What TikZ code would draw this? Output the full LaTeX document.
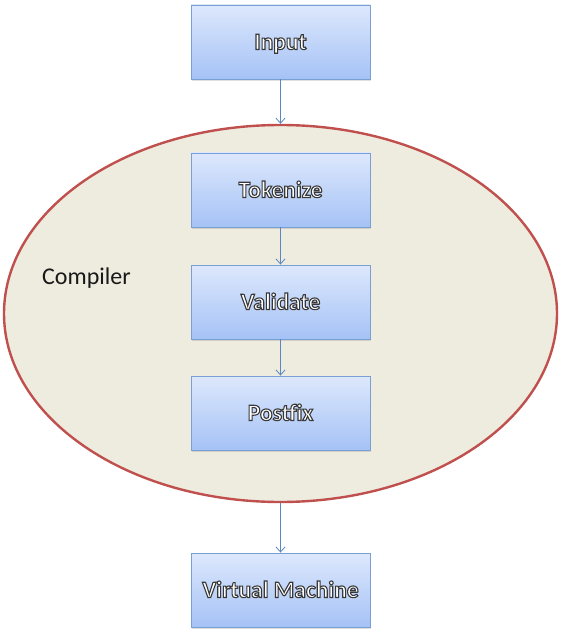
\documentclass[tikz,border=0pt]{standalone}
\usepackage{fontspec}
\setmainfont{Carlito}
\usetikzlibrary{shapes.geometric, shadows, arrows.meta}

\definecolor{boxtop}{HTML}{DDE8FC}
\definecolor{boxbottom}{HTML}{A5C2F6}
\definecolor{boxline}{HTML}{7A9FD5}
\definecolor{flowline}{HTML}{5A86C2}
\definecolor{compfill}{HTML}{EEEBDF}
\definecolor{compline}{HTML}{C0504D}

\tikzset{
	stagebox/.style={rectangle, draw=boxline, line width=0.9pt,
		top color=boxtop, bottom color=boxbottom,
		minimum width=179pt, minimum height=74pt, inner sep=0pt,
		text height=20pt, text depth=5pt,
		drop shadow={opacity=0.25, shadow xshift=1pt, shadow yshift=-2pt},
		text=white, font=\fontsize{23.5}{26}\selectfont\bfseries},
	flow/.style={draw=flowline, line width=0.8pt, -{Straight Barb[length=5pt, width=9pt]}}
}

% white letters with a dark rim
\newcommand{\outlined}[1]{\special{pdf:code q 2 Tr 1.1 w 0.22 0.22 0.22 RG}#1\special{pdf:code Q}}

\begin{document}
\begin{tikzpicture}[x=1pt, y=-1pt]
\useasboundingbox (0, 0) rectangle (562, 636);

%compiler region
\node[ellipse, draw=compline, line width=2.4pt, fill=compfill,
	minimum width=553pt, minimum height=377pt, inner sep=0pt]
	(compiler) at (280.5, 313.5) {};
\node[font=\fontsize{24}{26}\selectfont, text=black!90, anchor=west, inner sep=0pt]
	(complabel) at (42, 278) {Compiler};

%stages
\node[stagebox] (input) at (280.5, 42) {\outlined{Input}};
\node[stagebox] (tokenize) at (280.5, 190) {\outlined{Tokenize}};
\node[stagebox] (validate) at (280.5, 302) {\outlined{Validate}};
\node[stagebox] (postfix) at (280.5, 413) {\outlined{Postfix}};
\node[stagebox] (vm) at (280.5, 590) {\outlined{Virtual Machine}};

%connectors
\draw[flow] (input) -- (compiler.north);
\draw[flow] (tokenize) -- (validate);
\draw[flow] (validate) -- (postfix);
\draw[flow] (compiler.south) -- (vm);

\end{tikzpicture}
\end{document}
